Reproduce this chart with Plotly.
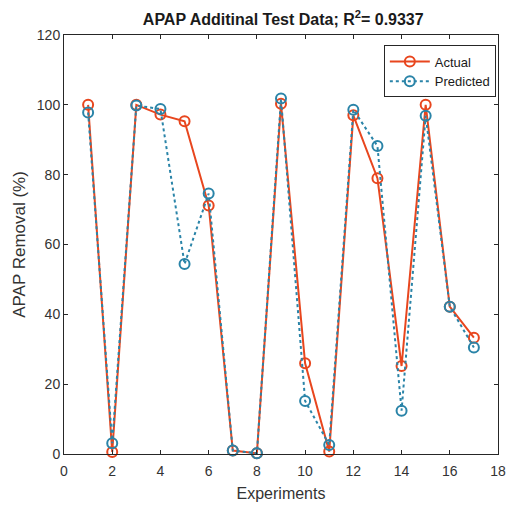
import plotly.graph_objects as go

experiments = list(range(1, 18))
actual = [100, 0.6, 100, 97.2, 95.3, 71.2, 1.0, 0.2, 100.3, 26, 0.7, 97, 79, 25.2, 100, 42.2, 33.3]
predicted = [97.8, 3.1, 99.8, 98.8, 54.4, 74.6, 1.0, 0.2, 101.8, 15.2, 2.6, 98.6, 88.2, 12.4, 96.9, 42.2, 30.5]

RED = "#E8461E"
BLUE = "#2A84A8"
FONT = "Liberation Sans, Arial"

fig = go.Figure()
fig.add_trace(go.Scatter(
    x=experiments, y=actual, name="Actual", mode="lines+markers",
    line=dict(color=RED, width=2),
    marker=dict(symbol="circle-open", size=10, color=RED, line=dict(width=2)),
    cliponaxis=False,
))
fig.add_trace(go.Scatter(
    x=experiments, y=predicted, name="Predicted", mode="lines+markers",
    line=dict(color=BLUE, width=2, dash="dot"),
    marker=dict(symbol="circle-open", size=10, color=BLUE, line=dict(width=2)),
    cliponaxis=False,
))

axis_common = dict(
    showgrid=False, zeroline=False, showline=True, mirror="ticks",
    linecolor="#262626", linewidth=1, ticks="inside", ticklen=4,
    tickcolor="#262626", tickfont=dict(family=FONT, size=14, color="#333333"),
    automargin=False,
)

fig.update_layout(
    width=515, height=508,
    margin=dict(l=64, r=17, t=35, b=54),
    paper_bgcolor="white", plot_bgcolor="white",
    title=dict(
        text="<b>APAP Additinal Test Data; R<sup>2</sup>= 0.9337</b>",
        x=0.55, xanchor="center",
        y=0.962, yanchor="middle",
        font=dict(family=FONT, size=16, color="#1a1a1a"),
    ),
    xaxis=dict(range=[0, 18], dtick=2, tick0=0, ticklabelstandoff=4,
               title=dict(text="Experiments", standoff=10,
                          font=dict(family=FONT, size=16, color="#333333")),
               **axis_common),
    yaxis=dict(range=[0, 120], dtick=20, tick0=0,
               title=dict(text="APAP Removal (%)", standoff=6,
                          font=dict(family=FONT, size=17, color="#333333")),
               **axis_common),
    legend=dict(
        x=0.995, y=0.975, xanchor="right", yanchor="top",
        bordercolor="#262626", borderwidth=1, bgcolor="white",
        font=dict(family=FONT, size=13, color="#1a1a1a"),
        tracegroupgap=0, itemwidth=40,
    ),
)

fig.write_html("out.html")
